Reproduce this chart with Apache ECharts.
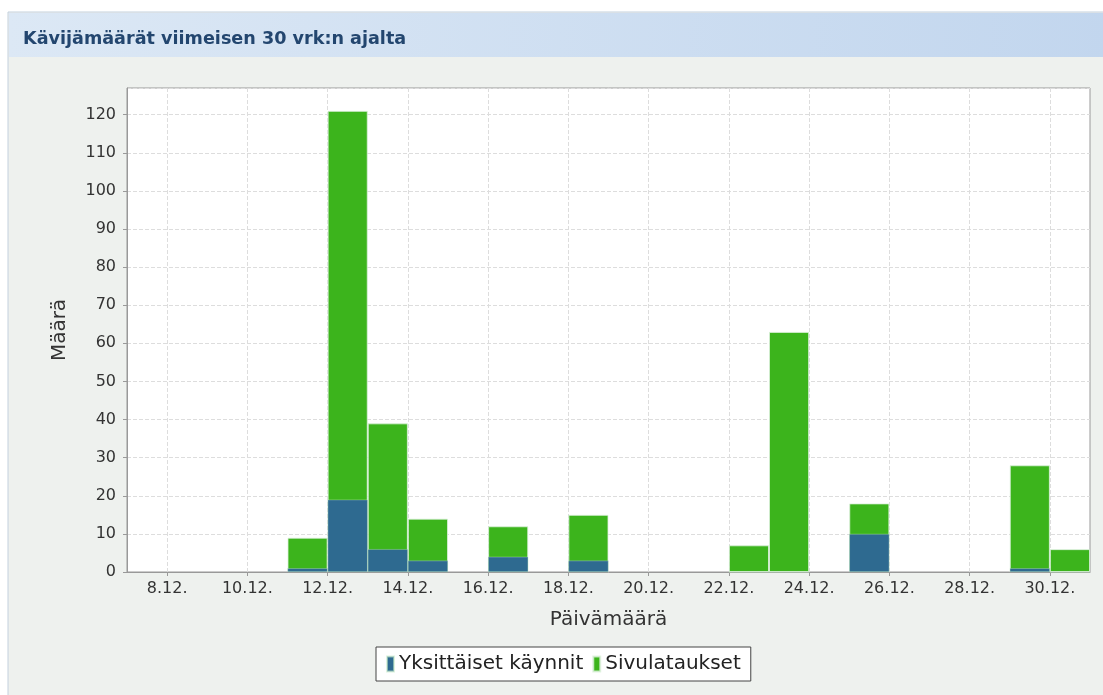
<!DOCTYPE html>
<html>
<head>
<meta charset="utf-8">
<script src="https://cdn.jsdelivr.net/npm/echarts@6/dist/echarts.min.js"></script>
<style>
  html, body { margin: 0; padding: 0; background: #fff; }
  #chart { width: 1103px; height: 695px; }
</style>
</head>
<body>
<div id="chart"></div>
<script>
// päivät (joulukuu), joille on dataa
const days = [11, 12, 13, 14, 16, 18, 22, 23, 25, 29, 30]
const visits = [1, 19, 6, 3, 4, 3, 0, 0, 10, 1, 0]
const pageLoads = [9, 121, 39, 14, 12, 15, 7, 63, 18, 28, 6]
// akselin päivärajat 7.12. - 31.12.
const tickDays = [7, 8, 9, 10, 11, 12, 13, 14, 15, 16, 17, 18, 19, 20, 21, 22, 23, 24, 25, 26, 27, 28, 29, 30, 31]
const yTicks = [0, 10, 20, 30, 40, 50, 60, 70, 80, 90, 100, 110, 120]

const chart = echarts.init(document.getElementById('chart'))

// pylväs kattaa koko päivän -> keskikohta päivä + 0.5
const toPoints = (vals) => vals.map((v, i) => [days[i] + 0.5, v])
const evenDay = (i) => tickDays[i] % 2 === 0

const option = {
  backgroundColor: '#ffffff',
  textStyle: { fontFamily: 'DejaVu Sans' },
  graphic: [
    {
      type: 'rect',
      z: -10,
      shape: { x: 8, y: 12, width: 1100, height: 690 },
      style: { fill: '#eef1ee', stroke: '#c3d0dd', lineWidth: 1 }
    },
    {
      type: 'rect',
      z: -9,
      shape: { x: 9, y: 13, width: 1100, height: 44 },
      style: {
        fill: new echarts.graphic.LinearGradient(0, 0, 1, 1, [
          { offset: 0, color: '#dce8f5' },
          { offset: 1, color: '#c2d6ee' }
        ])
      }
    }
  ],
  title: {
    text: 'Kävijämäärät viimeisen 30 vrk:n ajalta',
    left: 18,
    top: 25,
    textStyle: {
      fontSize: 17.6,
      fontWeight: 'bold',
      color: '#23466f',
      fontFamily: 'DejaVu Sans'
    }
  },
  grid: {
    left: 127,
    right: 13,
    top: 88,
    bottom: 123,
    show: true,
    backgroundColor: '#ffffff',
    borderColor: '#999999',
    borderWidth: 1
  },
  legend: {
    top: 647,
    left: 376,
    data: ['Yksittäiset käynnit', 'Sivulataukset'],
    icon: 'rect',
    itemWidth: 7,
    itemHeight: 15,
    itemGap: 9,
    padding: [7, 10],
    backgroundColor: '#ffffff',
    borderColor: '#444444',
    borderWidth: 1,
    textStyle: { fontSize: 20, color: '#222222', fontFamily: 'DejaVu Sans' }
  },
  xAxis: [
    {
      type: 'value',
      min: tickDays[0],
      max: tickDays[tickDays.length - 1],
      show: false
    },
    {
      type: 'category',
      position: 'bottom',
      boundaryGap: false,
      data: tickDays.map((d) => d + '.12.'),
      name: 'Päivämäärä',
      nameLocation: 'middle',
      nameGap: 38,
      nameTextStyle: { fontSize: 20, color: '#333333' },
      axisLine: { lineStyle: { color: '#999999' } },
      axisTick: {
        interval: evenDay,
        length: 4,
        lineStyle: { color: '#999999' }
      },
      axisLabel: {
        interval: evenDay,
        fontSize: 16,
        color: '#333333',
        margin: 9
      },
      splitLine: {
        show: true,
        interval: evenDay,
        lineStyle: { color: '#dddddd', type: 'dashed' }
      }
    }
  ],
  yAxis: {
    type: 'value',
    min: yTicks[0],
    max: 127,
    interval: 10,
    name: 'Määrä',
    nameLocation: 'middle',
    nameGap: 57,
    nameTextStyle: { fontSize: 20, color: '#333333' },
    axisLine: { show: true, lineStyle: { color: '#999999' } },
    axisTick: { show: true, length: 4, lineStyle: { color: '#999999' } },
    axisLabel: {
      fontSize: 16,
      color: '#333333',
      margin: 11,
      showMaxLabel: false,
      formatter: (v) => (yTicks.indexOf(v) >= 0 ? v : '')
    },
    splitLine: {
      show: true,
      lineStyle: { color: '#dddddd', type: 'dashed' }
    }
  },
  series: [
    {
      name: 'Yksittäiset käynnit',
      type: 'bar',
      xAxisIndex: 0,
      data: toPoints(visits),
      barWidth: '100%',
      barGap: '-100%',
      z: 3,
      itemStyle: {
        color: '#2e6a90',
        borderColor: 'rgba(200,235,200,0.6)',
        borderWidth: 0.6
      }
    },
    {
      name: 'Sivulataukset',
      type: 'bar',
      xAxisIndex: 0,
      data: toPoints(pageLoads),
      barWidth: '100%',
      barGap: '-100%',
      z: 2,
      itemStyle: {
        color: '#3cb41c',
        borderColor: 'rgba(220,240,220,0.8)',
        borderWidth: 1
      }
    }
  ]
}

chart.setOption(option)
</script>
</body>
</html>
